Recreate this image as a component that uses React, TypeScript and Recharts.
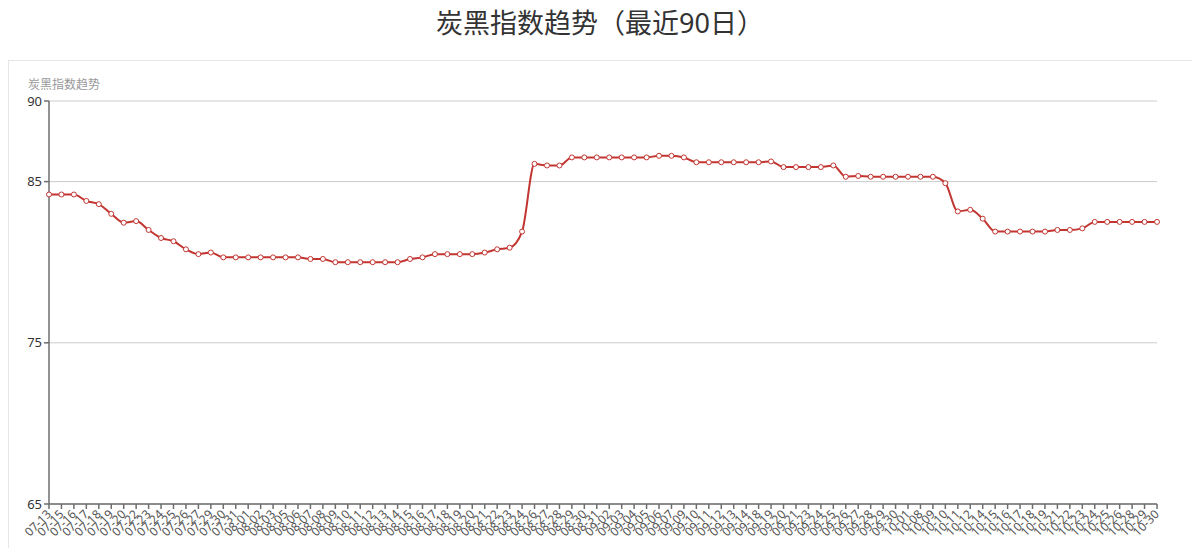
import { LineChart, Line, XAxis, YAxis, CartesianGrid } from 'recharts'

// trading days shown on the category axis
const dates = [
  '07-13', '07-15', '07-16', '07-17', '07-18', '07-19', '07-20', '07-22', '07-23', '07-24',
  '07-25', '07-26', '07-27', '07-29', '07-30', '07-31', '08-01', '08-02', '08-03', '08-05',
  '08-06', '08-07', '08-08', '08-09', '08-10', '08-11', '08-12', '08-13', '08-14', '08-15',
  '08-16', '08-17', '08-18', '08-19', '08-20', '08-21', '08-22', '08-23', '08-24', '08-26',
  '08-27', '08-28', '08-29', '08-30', '08-31', '09-02', '09-03', '09-04', '09-05', '09-06',
  '09-07', '09-09', '09-10', '09-11', '09-12', '09-13', '09-14', '09-18', '09-19', '09-20',
  '09-21', '09-23', '09-24', '09-25', '09-26', '09-27', '09-28', '09-29', '09-30', '10-01',
  '10-08', '10-09', '10-10', '10-11', '10-12', '10-14', '10-15', '10-16', '10-17', '10-18',
  '10-19', '10-21', '10-22', '10-23', '10-24', '10-25', '10-26', '10-28', '10-29', '10-30',
]

// carbon black index, one value per date
const indexValues = [
  84.2, 84.2, 84.2, 83.8, 83.6, 83.0, 82.45, 82.55, 82.0, 81.5,
  81.3, 80.8, 80.5, 80.6, 80.3, 80.3, 80.3, 80.3, 80.3, 80.3,
  80.3, 80.2, 80.2, 80.0, 80.0, 80.0, 80.0, 80.0, 80.0, 80.2,
  80.3, 80.5, 80.5, 80.5, 80.5, 80.6, 80.8, 80.9, 81.9, 86.1,
  86.0, 86.0, 86.5, 86.5, 86.5, 86.5, 86.5, 86.5, 86.5, 86.6,
  86.6, 86.5, 86.2, 86.2, 86.2, 86.2, 86.2, 86.2, 86.25, 85.9,
  85.9, 85.9, 85.9, 86.0, 85.3, 85.35, 85.3, 85.3, 85.3, 85.3,
  85.3, 85.3, 84.9, 83.15, 83.25, 82.7, 81.9, 81.9, 81.9, 81.9,
  81.9, 82.0, 82.0, 82.1, 82.5, 82.5, 82.5, 82.5, 82.5, 82.5,
]

const yTicks = [65, 75, 85, 90]

const data = dates.map((date, i) => ({ date, value: indexValues[i] }))

const FONT = '"Noto Sans", "Noto Sans CJK SC", sans-serif'
const RED = '#c23531'
const AXIS = '#6e6e6e'

function DateTick(props: { x?: number; y?: number; payload?: { value: string } }) {
  const { x = 0, y = 0, payload } = props
  return (
    <g transform={`translate(${x},${y})`}>
      <text
        x={0}
        y={0}
        dy="0.35em"
        textAnchor="end"
        transform="rotate(-45)"
        fontSize={12}
        fill="#555"
        fontFamily={FONT}
      >
        {payload?.value}
      </text>
    </g>
  )
}

export default function App() {
  return (
    <div style={{ position: 'relative', width: 1184, height: 540, fontFamily: FONT }}>
      <div
        style={{
          position: 'absolute', left: 0, top: 0, width: 1184,
          lineHeight: '30px', fontSize: 27, textAlign: 'center', color: '#333',
        }}
      >
        炭黑指数趋势（最近90日）
      </div>

      <div
        style={{
          position: 'absolute', left: 0, top: 52, width: 1184, height: 490,
          border: '1px solid #e6e6e6',
        }}
      >
        <div
          style={{
            position: 'absolute', left: 19, top: 17, lineHeight: '14px',
            fontSize: 12, color: '#999', whiteSpace: 'nowrap',
          }}
        >
          炭黑指数趋势
        </div>

        <LineChart
          width={1184}
          height={500}
          data={data}
          margin={{ top: 40, right: 36, bottom: 0, left: 0 }}
        >
          <CartesianGrid horizontal vertical={false} stroke="#ccc" />
          <XAxis
            dataKey="date"
            interval={0}
            height={57}
            tickSize={5}
            tickMargin={3}
            stroke={AXIS}
            strokeWidth={1.5}
            tick={<DateTick />}
          />
          <YAxis
            width={40}
            domain={[65, 90]}
            ticks={yTicks}
            type="number"
            allowDataOverflow
            tickSize={5}
            tickMargin={2}
            stroke={AXIS}
            strokeWidth={1.5}
            tick={{ fontSize: 13, fill: '#333', fontFamily: FONT }}
          />
          <Line
            type="monotone"
            dataKey="value"
            stroke={RED}
            strokeWidth={2}
            dot={{ r: 2.5, fill: '#fff', stroke: RED, strokeWidth: 1 }}
            isAnimationActive={false}
          />
        </LineChart>
      </div>
    </div>
  )
}
